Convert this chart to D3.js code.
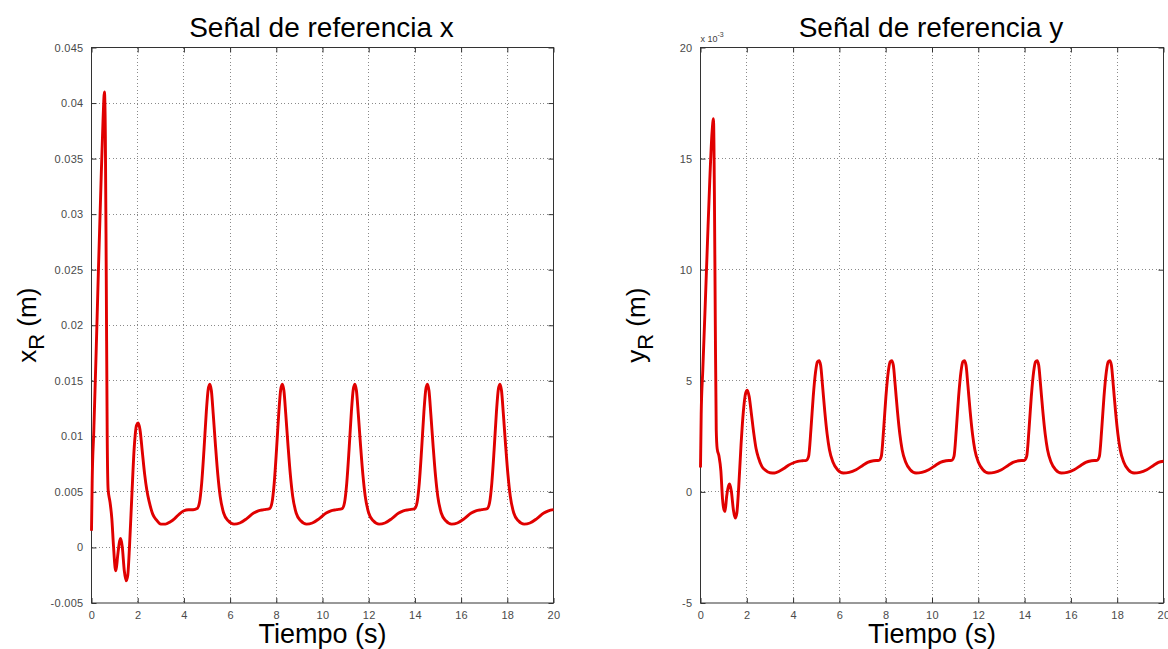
<!DOCTYPE html>
<html><head><meta charset="utf-8">
<script src="https://cdn.jsdelivr.net/npm/d3@7"></script>
<style>body{margin:0;background:#fff}</style>
</head><body>
<svg id="c" width="1168" height="649"></svg>
<script>
// ---------- DATA ----------
const tiempo = [
  0, 0.03, 0.1, 0.2, 0.3, 0.4, 0.5, 0.56, 0.6, 0.64, 0.68, 0.72, 0.8, 0.88, 0.95, 1.02, 1.06, 1.13, 1.22, 1.26, 1.33, 1.42, 1.5, 1.57, 1.65, 1.75, 1.85, 1.95, 2.02, 2.1, 2.2, 2.3, 2.4, 2.5, 2.65, 2.8, 3.0, 3.2, 3.4, 3.6, 3.8, 4.0, 4.2, 4.4,
  4.57, 4.67, 4.77, 4.87, 4.97, 5.05, 5.12, 5.19, 5.27, 5.37, 5.47, 5.57, 5.72, 5.92, 6.17, 6.42, 6.72, 7.02, 7.22, 7.47,
  7.71, 7.81, 7.91, 8.01, 8.11, 8.19, 8.26, 8.33, 8.41, 8.51, 8.61, 8.71, 8.86, 9.06, 9.31, 9.56, 9.86, 10.16, 10.36, 10.61,
  10.85, 10.95, 11.05, 11.15, 11.25, 11.33, 11.40, 11.47, 11.55, 11.65, 11.75, 11.85, 12.00, 12.20, 12.45, 12.70, 13.00, 13.30, 13.50, 13.75,
  13.99, 14.09, 14.19, 14.29, 14.39, 14.47, 14.54, 14.61, 14.69, 14.79, 14.89, 14.99, 15.14, 15.34, 15.59, 15.84, 16.14, 16.44, 16.64, 16.89,
  17.13, 17.23, 17.33, 17.43, 17.53, 17.61, 17.68, 17.75, 17.83, 17.93, 18.03, 18.13, 18.28, 18.48, 18.73, 18.98, 19.28, 19.58, 19.78, 20.00
];
// x reference (m)
const xRef = [
  0.0015, 0.006, 0.0105, 0.0175, 0.025, 0.032, 0.0385, 0.041, 0.037, 0.024, 0.010, 0.0052, 0.0041, 0.0026, 0.0002, -0.0018, -0.0021, -0.0008, 0.0006, 0.0008, 0.0001, -0.0021, -0.0030, -0.0025, 0.0003, 0.0048, 0.0090, 0.0110, 0.0112, 0.0106, 0.0086, 0.0066, 0.0051, 0.0041, 0.0030, 0.0025, 0.0021, 0.0021, 0.0023, 0.0026, 0.0030, 0.0033, 0.0034, 0.0034,
  0.0035, 0.0040, 0.0058, 0.0088, 0.0122, 0.0142, 0.0147, 0.0141, 0.0120, 0.0091, 0.0065, 0.0046, 0.0031, 0.0024, 0.0021, 0.0022, 0.0026, 0.0031, 0.0033, 0.0034,
  0.0035, 0.0040, 0.0058, 0.0088, 0.0122, 0.0142, 0.0147, 0.0141, 0.0120, 0.0091, 0.0065, 0.0046, 0.0031, 0.0024, 0.0021, 0.0022, 0.0026, 0.0031, 0.0033, 0.0034,
  0.0035, 0.0040, 0.0058, 0.0088, 0.0122, 0.0142, 0.0147, 0.0141, 0.0120, 0.0091, 0.0065, 0.0046, 0.0031, 0.0024, 0.0021, 0.0022, 0.0026, 0.0031, 0.0033, 0.0034,
  0.0035, 0.0040, 0.0058, 0.0088, 0.0122, 0.0142, 0.0147, 0.0141, 0.0120, 0.0091, 0.0065, 0.0046, 0.0031, 0.0024, 0.0021, 0.0022, 0.0026, 0.0031, 0.0033, 0.0034,
  0.0035, 0.0040, 0.0058, 0.0088, 0.0122, 0.0142, 0.0147, 0.0141, 0.0120, 0.0091, 0.0065, 0.0046, 0.0031, 0.0024, 0.0021, 0.0022, 0.0026, 0.0031, 0.0033, 0.0034
];
// y reference (x 10^-3 m)
const yRef = [
  1.1, 3.5, 5.5, 8.3, 11.2, 14.0, 16.2, 16.8, 13.5, 7.5, 2.8, 1.95, 1.6, 0.95, -0.3, -0.82, -0.88, -0.2, 0.3, 0.36, 0.05, -0.8, -1.18, -0.95, 0.2, 2.1, 3.6, 4.45, 4.58, 4.3, 3.5, 2.65, 1.95, 1.55, 1.15, 0.98, 0.86, 0.85, 0.93, 1.05, 1.2, 1.3, 1.37, 1.4,
  1.42, 1.6, 2.8, 4.3, 5.4, 5.85, 5.9, 5.7, 4.8, 3.6, 2.6, 1.9, 1.35, 1.0, 0.85, 0.88, 1.0, 1.2, 1.33, 1.4,
  1.42, 1.6, 2.8, 4.3, 5.4, 5.85, 5.9, 5.7, 4.8, 3.6, 2.6, 1.9, 1.35, 1.0, 0.85, 0.88, 1.0, 1.2, 1.33, 1.4,
  1.42, 1.6, 2.8, 4.3, 5.4, 5.85, 5.9, 5.7, 4.8, 3.6, 2.6, 1.9, 1.35, 1.0, 0.85, 0.88, 1.0, 1.2, 1.33, 1.4,
  1.42, 1.6, 2.8, 4.3, 5.4, 5.85, 5.9, 5.7, 4.8, 3.6, 2.6, 1.9, 1.35, 1.0, 0.85, 0.88, 1.0, 1.2, 1.33, 1.4,
  1.42, 1.6, 2.8, 4.3, 5.4, 5.85, 5.9, 5.7, 4.8, 3.6, 2.6, 1.9, 1.35, 1.0, 0.85, 0.88, 1.0, 1.2, 1.33, 1.38
];
const tTicks = [0, 2, 4, 6, 8, 10, 12, 14, 16, 18, 20];
const xTicks = [-0.005, 0, 0.005, 0.01, 0.015, 0.02, 0.025, 0.03, 0.035, 0.04, 0.045];
const xTickLabels = ["-0.005", "0", "0.005", "0.01", "0.015", "0.02", "0.025", "0.03", "0.035", "0.04", "0.045"];
const yTicks = [-5, 0, 5, 10, 15, 20];
const yTickLabels = ["-5", "0", "5", "10", "15", "20"];
const titles = ["Señal de referencia x", "Señal de referencia y"];
const xLabel = "Tiempo (s)";

// ---------- DRAW ----------
const svg = d3.select("#c");
const FONT = "'Liberation Sans', Arial, Helvetica, sans-serif";
const plotTop = 47.5, plotBottom = 603;

function panel(o) {
  const x = d3.scaleLinear().domain([0, 20]).range([o.left, o.right]);
  const y = d3.scaleLinear().domain(o.domain).range([plotBottom, plotTop]);
  const g = svg.append("g");

  // grid
  g.append("g").selectAll("line").data(tTicks.slice(1, -1)).join("line")
    .attr("x1", d => x(d)).attr("x2", d => x(d)).attr("y1", plotTop).attr("y2", plotBottom)
    .attr("stroke", "#8a8a8a").attr("stroke-width", 1).attr("stroke-dasharray", "1,2.5")
    .attr("shape-rendering", "crispEdges");
  g.append("g").selectAll("line").data(o.ticks.slice(1, -1)).join("line")
    .attr("y1", d => y(d)).attr("y2", d => y(d)).attr("x1", o.left).attr("x2", o.right)
    .attr("stroke", "#8a8a8a").attr("stroke-width", 1).attr("stroke-dasharray", "1,2.5")
    .attr("shape-rendering", "crispEdges");

  // axes (ticks inward, mirrored)
  const tl = 5;
  const axB = d3.axisBottom(x).tickValues(tTicks).tickSize(-tl).tickPadding(tl + 3).tickFormat(d3.format("d"));
  const axT = d3.axisTop(x).tickValues(tTicks).tickSize(-tl).tickFormat("");
  const axL = d3.axisLeft(y).tickValues(o.ticks).tickSize(-tl).tickPadding(tl + 3).tickFormat((d, i) => o.labels[i]);
  const axR = d3.axisRight(y).tickValues(o.ticks).tickSize(-tl).tickFormat("");
  const styleAx = sel => {
    sel.select(".domain").remove();
    sel.selectAll(".tick line").attr("stroke", "#333");
    sel.selectAll("text").attr("fill", "#4a4a4a").style("font-family", FONT).style("font-size", "11px")
      .style("letter-spacing", "0.3px");
  };
  g.append("g").attr("transform", `translate(0,${plotBottom})`).call(axB).call(styleAx);
  g.append("g").attr("transform", `translate(0,${plotTop})`).call(axT).call(styleAx);
  g.append("g").attr("transform", `translate(${o.left},0)`).call(axL).call(styleAx);
  g.append("g").attr("transform", `translate(${o.right},0)`).call(axR).call(styleAx);

  g.append("rect").attr("x", o.left).attr("y", plotTop).attr("width", o.right - o.left).attr("height", plotBottom - plotTop)
    .attr("fill", "none").attr("stroke", "#333").attr("stroke-width", 1);

  // line
  const line = d3.line().x((d, i) => x(tiempo[i])).y(d => y(d)).curve(d3.curveMonotoneX);
  g.append("path").datum(o.values).attr("d", line)
    .attr("fill", "none").attr("stroke", "#e00000").attr("stroke-width", 2.9)
    .attr("stroke-linejoin", "round");

  // title
  g.append("text").attr("x", (o.left + o.right) / 2 - 1).attr("y", 37).attr("text-anchor", "middle")
    .style("font-family", FONT).style("font-size", "28px").attr("fill", "#000").text(o.title);
  // x label
  g.append("text").attr("x", (o.left + o.right) / 2).attr("y", 643).attr("text-anchor", "middle")
    .style("font-family", FONT).style("font-size", "27px").attr("fill", "#000").text(xLabel);
  // y label
  const yl = g.append("text").attr("transform", `translate(${o.left - 56},${(plotTop + plotBottom) / 2}) rotate(-90)`)
    .attr("text-anchor", "middle").style("font-family", FONT).style("font-size", "26px").attr("fill", "#000");
  yl.append("tspan").text(o.ylab);
  yl.append("tspan").attr("dy", 8).style("font-size", "22px").text("R");
  yl.append("tspan").attr("dy", -8).text(" (m)");

  if (o.exp) {
    const e = g.append("text").attr("x", o.left).attr("y", 42).style("font-family", FONT)
      .style("font-size", "9px").attr("fill", "#404040");
    e.append("tspan").text("x 10");
    e.append("tspan").attr("dy", -5).style("font-size", "7px").text("-3");
  }
}

panel({left: 91.5, right: 553.5, domain: [-0.005, 0.045], ticks: xTicks, labels: xTickLabels,
  values: xRef, title: titles[0], ylab: "x", exp: false});
panel({left: 700.5, right: 1163.5, domain: [-5, 20], ticks: yTicks, labels: yTickLabels,
  values: yRef, title: titles[1], ylab: "y", exp: true});
</script>
</body></html>
